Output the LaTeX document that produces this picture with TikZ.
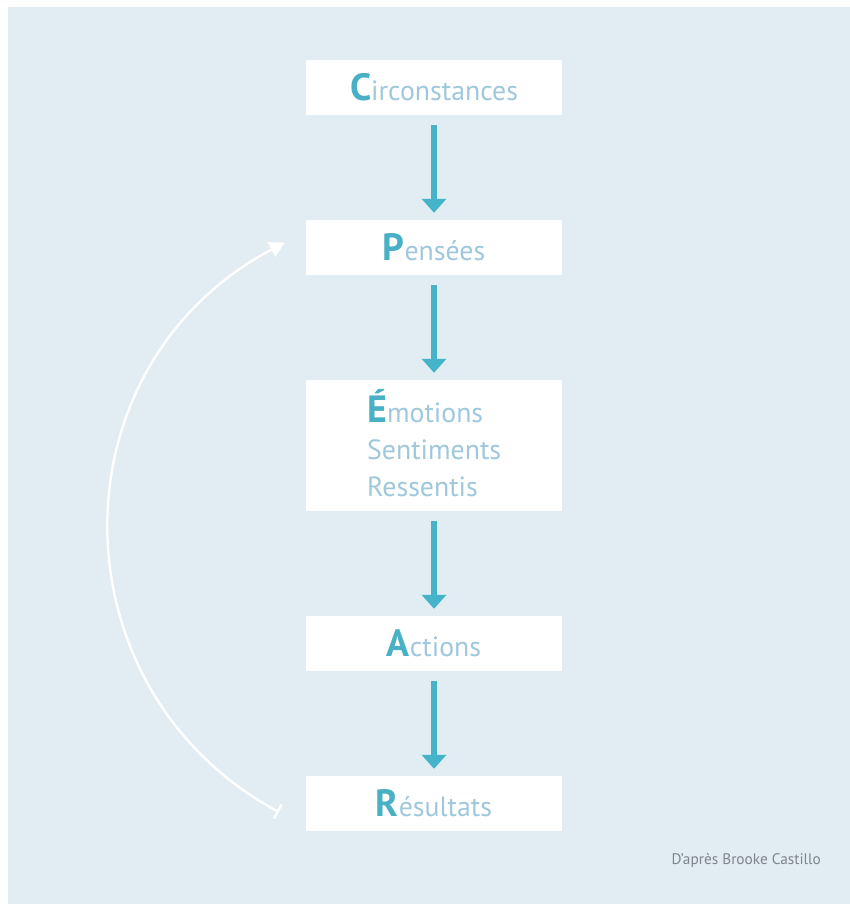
\documentclass[tikz,border=0pt]{standalone}
\usepackage{fontspec}
\setmainfont{PT Sans}
\usetikzlibrary{arrows.meta,calc}
\definecolor{panel}{HTML}{E1EDF2}
\definecolor{teal}{HTML}{45B3C9}
\definecolor{lighttxt}{HTML}{9FC8DD}
\definecolor{initc}{HTML}{4AB0C6}
\definecolor{credit}{HTML}{7E858B}
\newcommand{\Ini}[1]{{\fontsize{38}{38}\selectfont\bfseries\color{initc}#1}}
\tikzset{
  stepbox/.style={draw=none,fill=white,minimum width=256pt,inner sep=0pt,
    text=lighttxt,font=\fontsize{27.8}{27.8}\selectfont},
  flow/.style={teal,line width=5.5pt,-{Triangle[width=24pt,length=14pt]}},
  loop/.style={white,line width=2.4pt,{Bar[width=16pt,line width=2.4pt]}-{Triangle[width=16pt,length=15pt]}}
}
\begin{document}
\begin{tikzpicture}[x=1pt,y=-1pt]
\useasboundingbox (0,0) rectangle (850,904);
\fill[white] (0,0) rectangle (850,904);
\fill[panel] (8,7) rectangle (850,904);
\node[stepbox,minimum height=55pt] (c) at (434,87.5) {\Ini{C}irconstances};
\node[stepbox,minimum height=55pt] (p) at (434,247.5) {\Ini{P}ensées};
\node[stepbox,minimum height=131pt] (e) at (434,445.5) {};
\node[anchor=west,inner sep=0pt,text=lighttxt,font=\fontsize{27.8}{37}\selectfont,align=left] (et) at (367,443) {\Ini{É}motions\\Sentiments\\Ressentis};
\node[stepbox,minimum height=55pt] (a) at (434,643.5) {\Ini{A}ctions};
\node[stepbox,minimum height=55pt] (r) at (434,803.5) {\Ini{R}ésultats};
\draw[flow] ($(c.south)+(0,10)$) -- ($(p.north)+(0,-7)$);
\draw[flow] ($(p.south)+(0,10)$) -- ($(e.north)+(0,-7)$);
\draw[flow] ($(e.south)+(0,10)$) -- ($(a.north)+(0,-7)$);
\draw[flow] ($(a.south)+(0,10)$) -- ($(r.north)+(0,-7)$);
\coordinate (ls) at ($(r.west)+(-27,8.5)$);
\coordinate (le) at ($(p.west)+(-21,-5)$);
\draw[loop] (ls) .. controls (53,690) and (50,367) .. (le);
\node[anchor=east,inner sep=0pt,text=credit,font=\fontsize{15.3}{15.3}\selectfont] (cr) at (821,861) {D’après Brooke Castillo};
\end{tikzpicture}
\end{document}
